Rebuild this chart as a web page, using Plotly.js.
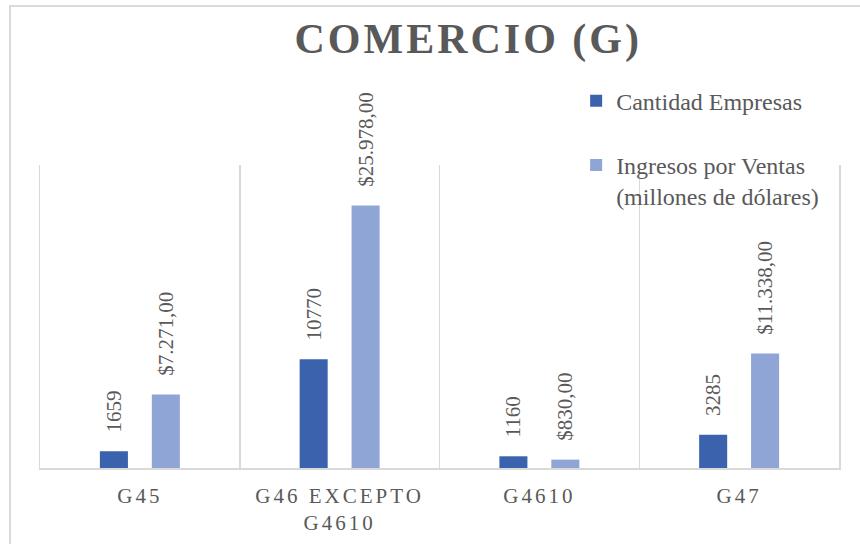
<!DOCTYPE html>
<html>
<head>
<meta charset="utf-8">
<script src="https://cdn.plot.ly/plotly-3.0.1.min.js"></script>
<style>
  html, body { margin: 0; padding: 0; background: #ffffff; }
  #frame { position: absolute; left: 9px; top: 5px; width: 860px; height: 560px;
           border-left: 2px solid #d9d9d9; border-top: 2px solid #d9d9d9; pointer-events: none; }
  #chart { width: 860px; height: 544px; }
  .gtitle { letter-spacing: 3px; }
  .xtick text { letter-spacing: 3px; }
</style>
</head>
<body>
<div id="chart"></div>
<div id="frame"></div>
<script>
// Data
const categories = ["G45", "G46 EXCEPTO<br>G4610", "G4610", "G47"];
const cantidadEmpresas = [1659, 10770, 1160, 3285];
const ingresosVentas = [7271, 25978, 830, 11338];
const seriesNames = ["Cantidad Empresas", "Ingresos por Ventas<br>(millones de dólares)"];

const serif = "Liberation Serif, Times New Roman, serif";
const textFont = { family: serif, size: 21, color: "#595959" };
const pad = "\u00a0\u00a0\u00a0";

const traces = [
  {
    type: "bar", name: seriesNames[0], x: categories, y: cantidadEmpresas,
    marker: { color: "#3b63ad" }, legendgroup: "a",
    texttemplate: pad + "%{y:d}", textposition: "outside", textangle: -90,
    constraintext: "none",
    textfont: textFont, cliponaxis: false, hoverinfo: "skip"
  },
  {
    type: "bar", name: seriesNames[1], x: categories, y: ingresosVentas,
    marker: { color: "#8fa5d5" }, legendgroup: "b",
    texttemplate: pad + "$%{y:,.2f}", textposition: "outside", textangle: -90,
    constraintext: "none",
    textfont: textFont, cliponaxis: false, hoverinfo: "skip"
  }
];

const layout = {
  width: 860, height: 544,
  margin: { l: 40, r: 21, t: 165, b: 76, pad: 0 },
  paper_bgcolor: "#ffffff", plot_bgcolor: "#ffffff",
  separators: ",.",
  barmode: "group", bargap: 0.48, bargroupgap: 0.46,
  font: { family: serif, color: "#595959" },
  title: {
    text: "<b>COMERCIO (G)</b>",
    font: { family: serif, size: 42, color: "#595959" },
    xref: "paper", x: 0.536, xanchor: "center",
    yref: "container", y: 0.93, yanchor: "middle"
  },
  xaxis: {
    type: "category", range: [-0.5, 3.5], tickson: "boundaries",
    showgrid: true, gridcolor: "#d9d9d9", gridwidth: 1.5,
    showline: true, linecolor: "#d9d9d9", linewidth: 1.5,
    ticks: "", ticklabelstandoff: 8,
    tickfont: { family: serif, size: 21, color: "#595959" },
    fixedrange: true
  },
  yaxis: {
    range: [0, 30000], showgrid: false, zeroline: false, showticklabels: false,
    showline: true, mirror: true, linecolor: "#d9d9d9", linewidth: 1.5, ticks: "",
    fixedrange: true
  },
  showlegend: true,
  legend: {
    x: 0.671, xanchor: "left", y: 1.285, yanchor: "top",
    valign: "top", tracegroupgap: 30, bgcolor: "rgba(0,0,0,0)",
    font: { family: serif, size: 24, color: "#595959" }
  }
};

Plotly.newPlot("chart", traces, layout, { displayModeBar: false, staticPlot: true });
</script>
</body>
</html>
